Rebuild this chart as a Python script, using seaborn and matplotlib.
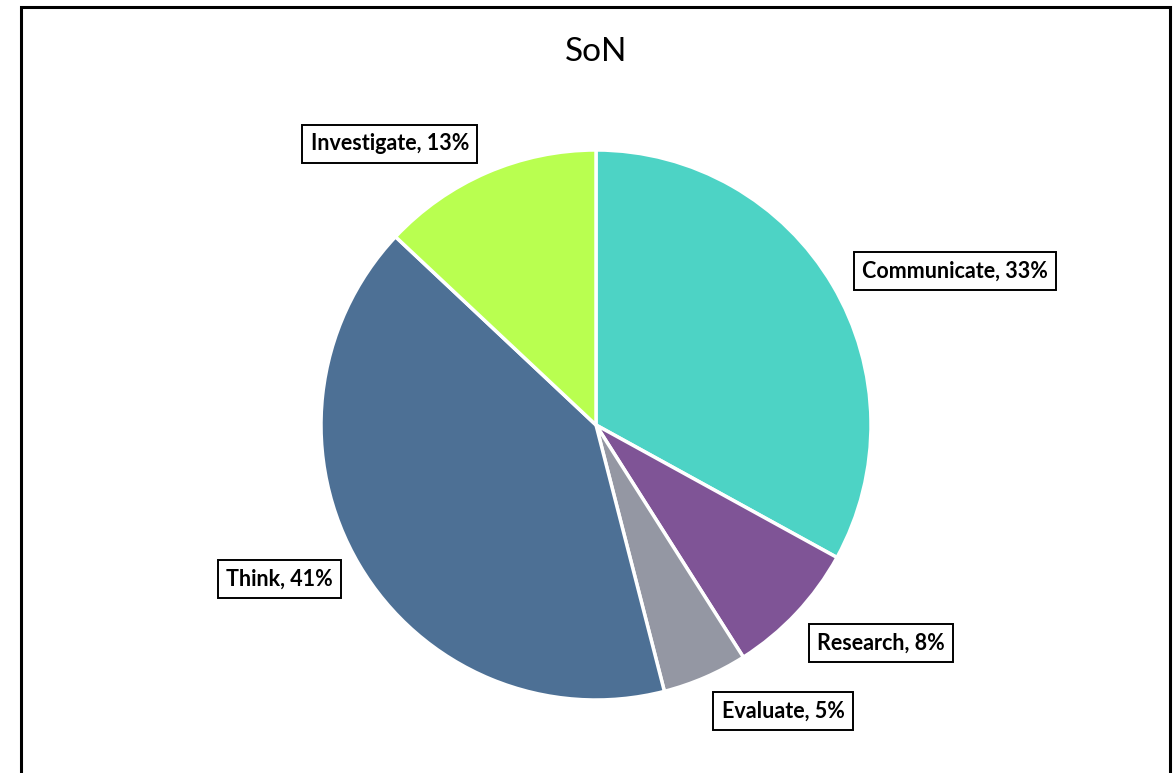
import matplotlib
matplotlib.use("Agg")
import matplotlib.pyplot as plt
import seaborn as sns
from matplotlib.patches import Rectangle

categories = ["Communicate", "Research", "Evaluate", "Think", "Investigate"]
values = [33, 8, 5, 41, 13]
colors = ["#4DD3C5", "#7F5496", "#9497A3", "#4D7095", "#B9FF50"]
title = "SoN"

# label box positions (axes data coords, pie radius = 1)
label_pos = [(1.305, 0.56), (1.035, -0.793), (0.68, -1.04), (-1.15, -0.56), (-0.75, 1.022)]

sns.set_theme(style="white")
plt.rcParams['font.family'] = ['Lato', 'DejaVu Sans']

fig = plt.figure(figsize=(11.76, 7.73), dpi=100)
fig.patch.set_facecolor("white")
# outer frame
fig.patches.append(Rectangle((21 / 1176, -0.05), (1170 - 21) / 1176, 1 + 0.05 - 7 / 773,
                             transform=fig.transFigure, fill=False, edgecolor="black",
                             linewidth=2.2, zorder=0))

ax = fig.add_axes([321 / 1176, (773 - 700) / 773, 550 / 1176, 550 / 773])
wedges, _ = ax.pie(values, colors=colors, startangle=90, counterclock=False,
                   wedgeprops=dict(edgecolor="white", linewidth=2.5), radius=1)
ax.set_xlim(-1, 1)
ax.set_ylim(-1, 1)
ax.set_aspect("equal")
ax.axis("off")

for cat, val, (x, y) in zip(categories, values, label_pos):
    ax.text(x, y, f"{cat}, {val}%", ha="center", va="center", fontsize=15.5,
            fontweight="bold", color="black", clip_on=False,
            bbox=dict(boxstyle="square,pad=0.38", facecolor="white",
                      edgecolor="black", linewidth=1.4))

fig.text(596 / 1176, 1 - 52 / 773, title, ha="center", va="center", fontsize=24, color="black")

fig.savefig("out.png", dpi=100)
